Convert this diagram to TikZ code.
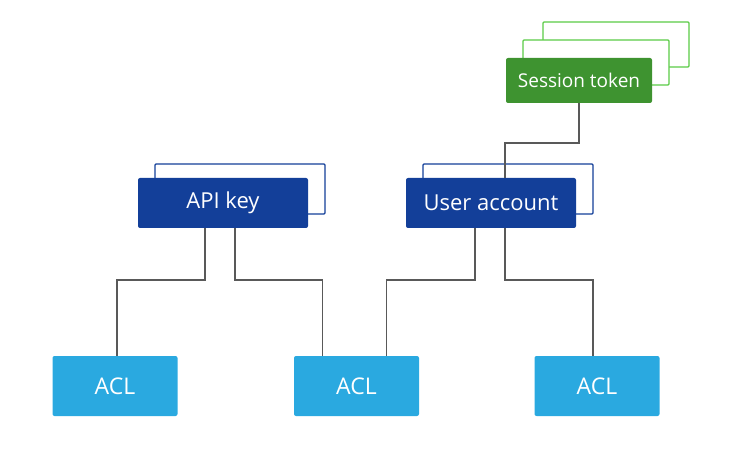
\documentclass[tikz,border=0pt]{standalone}
\usepackage{fontspec}
\setmainfont{Open Sans}
\usepackage{xcolor}
\definecolor{keyblue}{HTML}{133F99}
\definecolor{aclblue}{HTML}{2AA9E0}
\definecolor{tokengreen}{HTML}{3E9330}
\definecolor{stackgreen}{HTML}{5ACB46}
\definecolor{linkgrey}{HTML}{595959}
\tikzset{
  keybox/.style={rectangle, rounded corners=2pt, fill=keyblue, text=white,
    minimum width=170, minimum height=50, font=\fontsize{22}{26}\selectfont},
  keyback/.style={rectangle, rounded corners=1pt, draw=keyblue, fill=white,
    line width=1.2pt, minimum width=170, minimum height=50},
  tokenbox/.style={rectangle, rounded corners=2pt, fill=tokengreen, text=white,
    minimum width=146, minimum height=45, font=\fontsize{19}{23}\selectfont},
  tokenback/.style={rectangle, rounded corners=1pt, draw=stackgreen, fill=white,
    line width=1.2pt, minimum width=146, minimum height=45},
  aclbox/.style={rectangle, rounded corners=2pt, fill=aclblue, text=white,
    minimum width=125, minimum height=60, font=\fontsize{23}{27}\selectfont},
  link/.style={draw=linkgrey, line width=1.6pt}
}

\begin{document}
\begin{tikzpicture}[x=1pt, y=-1pt]
\useasboundingbox (0,0) rectangle (746,454);
% token stack
\node[tokenback] (tokenbacktwo) at (616,44.5) {};
\node[tokenback] (tokenbackone) at (596,62.5) {};
\node[tokenbox] (token) at (579,80.5) {Session token};
% keys
\node[keyback] (apiback) at (240,189) {};
\node[keybox] (api) at (223,203) {API key};
\node[keyback] (userback) at (508,189) {};
\node[keybox] (user) at (491,203) {User account};
% ACLs
\node[aclbox] (aclone) at (115,386) {ACL};
\node[aclbox] (acltwo) at (356.5,386) {ACL};
\node[aclbox] (aclthree) at (597,386) {ACL};

% links
\draw[link] (token.south) -- ++(0,40) -| ([xshift=14]user.north);
\draw[link] ([xshift=-18]api.south) -- ++(0,52) -| ([xshift=2]aclone.north);
\draw[link] ([xshift=12]api.south) -- ++(0,52) -| ([xshift=-34]acltwo.north);
\draw[link] ([xshift=-16]user.south) -- ++(0,52) -| ([xshift=30]acltwo.north);
\draw[link] ([xshift=14]user.south) -- ++(0,52) -| ([xshift=-4]aclthree.north);
\end{tikzpicture}
\end{document}
